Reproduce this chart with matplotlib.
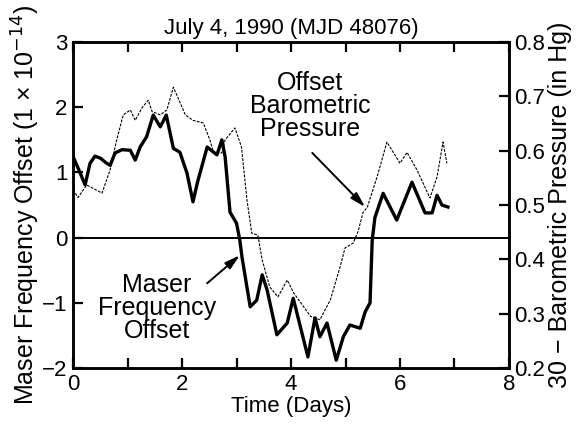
import numpy as np
import matplotlib.pyplot as plt

plt.rcParams['font.family'] = ['Liberation Sans', 'DejaVu Sans']

# maser frequency offset (units of 1e-14)
maser_t = [0.00, 0.10, 0.22, 0.31, 0.40, 0.50, 0.60, 0.68, 0.77, 0.90, 1.05, 1.14, 1.23,
           1.35, 1.47, 1.60, 1.71, 1.84, 1.96, 2.09, 2.20, 2.28, 2.46, 2.64, 2.73, 2.79,
           2.88, 3.00, 3.06, 3.10, 3.25, 3.37, 3.47, 3.56, 3.74, 3.93, 4.04, 4.31, 4.44,
           4.53, 4.66, 4.83, 4.96, 5.08, 5.27, 5.36, 5.45, 5.49, 5.54, 5.69, 5.94, 6.22,
           6.46, 6.59, 6.68, 6.77, 6.88]
maser_y = [1.24, 1.05, 0.81, 1.14, 1.25, 1.22, 1.15, 1.11, 1.30, 1.35, 1.34, 1.19, 1.39,
           1.55, 1.88, 1.70, 1.88, 1.37, 1.31, 0.99, 0.55, 0.84, 1.39, 1.27, 1.50, 1.24,
           0.39, 0.22, -0.04, -0.30, -1.06, -0.96, -0.57, -0.80, -1.49, -1.31, -0.93,
           -1.83, -1.23, -1.52, -1.31, -1.88, -1.52, -1.34, -1.39, -1.14, -1.00, -0.04,
           0.31, 0.68, 0.27, 0.85, 0.38, 0.38, 0.65, 0.50, 0.47]

# 30 - barometric pressure (in Hg)
press_t = [0.00, 0.09, 0.25, 0.53, 0.68, 0.80, 0.92, 1.05, 1.14, 1.27, 1.38, 1.45, 1.60,
           1.72, 1.84, 2.06, 2.20, 2.39, 2.51, 2.58, 2.73, 2.79, 2.97, 3.09, 3.19, 3.28,
           3.39, 3.47, 3.61, 3.76, 3.93, 4.05, 4.36, 4.53, 4.72, 4.90, 4.99, 5.14, 5.23,
           5.32, 5.40, 5.58, 5.76, 6.00, 6.13, 6.31, 6.55, 6.68, 6.79, 6.86]
press_p = [0.528, 0.514, 0.537, 0.522, 0.565, 0.620, 0.666, 0.675, 0.656, 0.680, 0.693,
           0.672, 0.666, 0.675, 0.717, 0.666, 0.656, 0.651, 0.620, 0.596, 0.596, 0.620,
           0.642, 0.607, 0.510, 0.448, 0.445, 0.399, 0.349, 0.331, 0.362, 0.338, 0.295,
           0.289, 0.325, 0.386, 0.421, 0.430, 0.451, 0.486, 0.496, 0.552, 0.616, 0.577,
           0.597, 0.565, 0.513, 0.552, 0.616, 0.577]

fig = plt.figure(figsize=(5.85, 4.34), dpi=100)
ax = fig.add_axes([0.125, 0.152, 0.745, 0.751])
ax2 = ax.twinx()

ax.plot(maser_t, maser_y, color="black", lw=2.4, zorder=3)
ax.axhline(0, color="black", lw=1.4)
ax2.plot(press_t, press_p, color="black", lw=0.8, ls=(0, (2.5, 1.2)))

ax.set_xlim(0, 8)
ax.set_ylim(-2, 3)
ax2.set_ylim(0.2, 0.8)
ax.set_xticks(range(0, 9, 2))
ax.set_xticks(range(0, 9), minor=True)
ax.set_yticks(range(-2, 4))
ax.set_yticklabels(["\u22122", "\u22121", "0", "1", "2", "3"])
ax2.set_yticks([0.2, 0.3, 0.4, 0.5, 0.6, 0.7, 0.8])
ax2.set_yticklabels(["0.2", "0.3", "0.4", "0.5", "0.6", "0.7", "0.8"])

ax.tick_params(axis="x", which="both", direction="in", top=True, length=7, width=1.6,
               labelsize=16, pad=4)
ax.tick_params(axis="y", direction="in", right=False, length=7, width=1.6,
               labelsize=16, pad=4)
ax2.tick_params(axis="y", direction="in", length=7, width=1.6, labelsize=16, pad=4)
for a in (ax, ax2):
    for s in a.spines.values():
        s.set_linewidth(1.8)

ax.set_xlabel("Time (Days)", fontsize=16, labelpad=1)
ax.set_ylabel("Maser Frequency Offset (1 \u00d7 10$^{\u221214}$)", fontsize=18, labelpad=0)
ax2.set_ylabel("30 \u2212 Barometric Pressure (in Hg)", fontsize=18, labelpad=2)
ax.set_title("July 4, 1990 (MJD 48076)", fontsize=16, pad=6)

arrow = dict(arrowstyle="-|>,head_length=0.9,head_width=0.25", color="black", lw=1.4,
             shrinkA=0, shrinkB=0)
ax.text(4.35, 2.02, "Offset\nBarometric\nPressure", ha="center", va="center",
        fontsize=18, linespacing=0.95)
ax.annotate("", xy=(5.36, 0.47), xytext=(4.39, 1.30), arrowprops=arrow)
ax.text(1.54, -1.08, "Maser\nFrequency\nOffset", ha="center", va="center",
        fontsize=18, linespacing=0.95)
ax.annotate("", xy=(3.06, -0.27), xytext=(2.46, -0.70), arrowprops=arrow)

fig.savefig("out.png", dpi=100)
